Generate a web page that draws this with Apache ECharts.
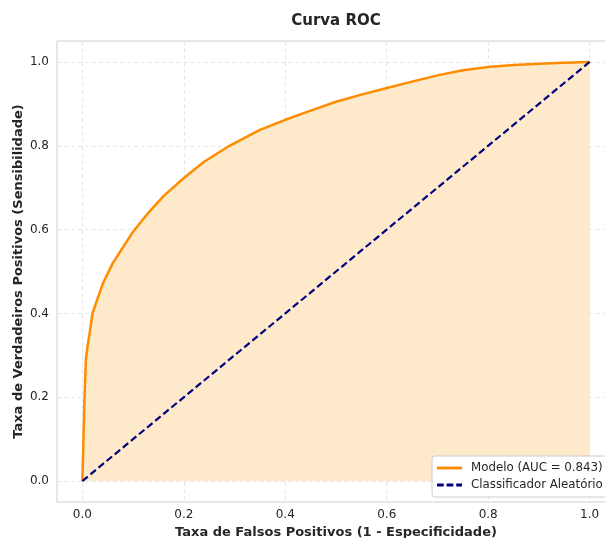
<!DOCTYPE html>
<html>
<head>
<meta charset="utf-8">
<script src="https://cdn.jsdelivr.net/npm/echarts@6/dist/echarts.min.js"></script>
<style>html,body{margin:0;padding:0;background:#fff}#c{width:605px;height:538px}</style>
</head>
<body>
<div id="c"></div>
<script>
const fpr = [0, 0.002, 0.004, 0.007, 0.01, 0.014, 0.02, 0.027, 0.04, 0.06, 0.076, 0.1, 0.13, 0.16, 0.2, 0.24, 0.29, 0.35, 0.4, 0.45, 0.5, 0.55, 0.6, 0.65, 0.7, 0.75, 0.8, 0.85, 0.9, 0.95, 1.0];
const tpr = [0, 0.09, 0.19, 0.29, 0.32, 0.35, 0.40, 0.425, 0.47, 0.52, 0.55, 0.595, 0.64, 0.68, 0.723, 0.762, 0.80, 0.838, 0.862, 0.884, 0.905, 0.922, 0.938, 0.953, 0.968, 0.98, 0.988, 0.993, 0.996, 0.998, 1.0];
const diagX = [0, 1];
const diagY = [0, 1];
const tickValues = [0, 0.2, 0.4, 0.6, 0.8, 1.0];
const modelName = 'Modelo (AUC = 0.843)';
const randomName = 'Classificador Aleatório';

const chart = echarts.init(document.getElementById('c'), null, {renderer: 'canvas'});
const font = 'DejaVu Sans';
const axisCommon = {
  type: 'value', min: -0.05, max: 1.05,
  axisLine: {show: false},
  axisTick: {show: false, customValues: tickValues},
  axisLabel: {customValues: tickValues, formatter: v => v.toFixed(1), color: '#262626', fontSize: 12, fontFamily: font},
  splitLine: {show: true, lineStyle: {color: '#e6e6e6', type: [4, 3], width: 1}},
  nameLocation: 'middle',
  nameTextStyle: {fontWeight: 'bold', fontSize: 13, color: '#262626', fontFamily: font}
};
chart.setOption({
  animation: false,
  backgroundColor: '#fff',
  title: {text: 'Curva ROC', left: 331, top: 9, textAlign: 'center',
    textStyle: {fontSize: 15, fontWeight: 'bold', color: '#262626', fontFamily: font}},
  grid: {left: 57, top: 41, width: 558, height: 461, outerBoundsMode: 'none', containLabel: false,
    show: true, borderColor: '#d0d0d0', borderWidth: 1},
  xAxis: Object.assign({}, axisCommon, {name: 'Taxa de Falsos Positivos (1 - Especificidade)', nameGap: 18,
    axisLabel: Object.assign({}, axisCommon.axisLabel, {margin: 7})}),
  yAxis: Object.assign({}, axisCommon, {name: 'Taxa de Verdadeiros Positivos (Sensibilidade)', nameGap: 32,
    nameMoveOverlap: false,
    axisLabel: Object.assign({}, axisCommon.axisLabel, {margin: 8})}),
  legend: {
    left: 432, top: 456, orient: 'vertical', itemGap: 5, itemWidth: 25, itemHeight: 3,
    backgroundColor: '#fff', borderColor: '#cccccc', borderWidth: 1, borderRadius: 3, padding: [6, 6, 6, 5],
    textStyle: {fontSize: 11.8, color: '#262626', fontFamily: font, padding: [0, 0, 0, 4]},
    data: [
      {name: modelName, icon: 'path://M0,0H26V3H0Z'},
      {name: randomName, icon: 'path://M0,0H7V3H0Z M10,0H17V3H10Z M20,0H26V3H20Z'}
    ]
  },
  series: [
    {
      name: modelName, type: 'line', symbol: 'none', showSymbol: false, smooth: false,
      data: fpr.map((x, i) => [x, tpr[i]]),
      lineStyle: {color: '#ff8c00', width: 2.5},
      itemStyle: {color: '#ff8c00'},
      areaStyle: {color: '#feeacb', opacity: 1, origin: 0},
      z: 2
    },
    {
      name: randomName, type: 'line', symbol: 'none', showSymbol: false,
      data: diagX.map((x, i) => [x, diagY[i]]),
      lineStyle: {color: '#000080', width: 2.2, type: [7, 3.5]},
      itemStyle: {color: '#000080'},
      z: 3
    }
  ]
});
</script>
</body>
</html>
